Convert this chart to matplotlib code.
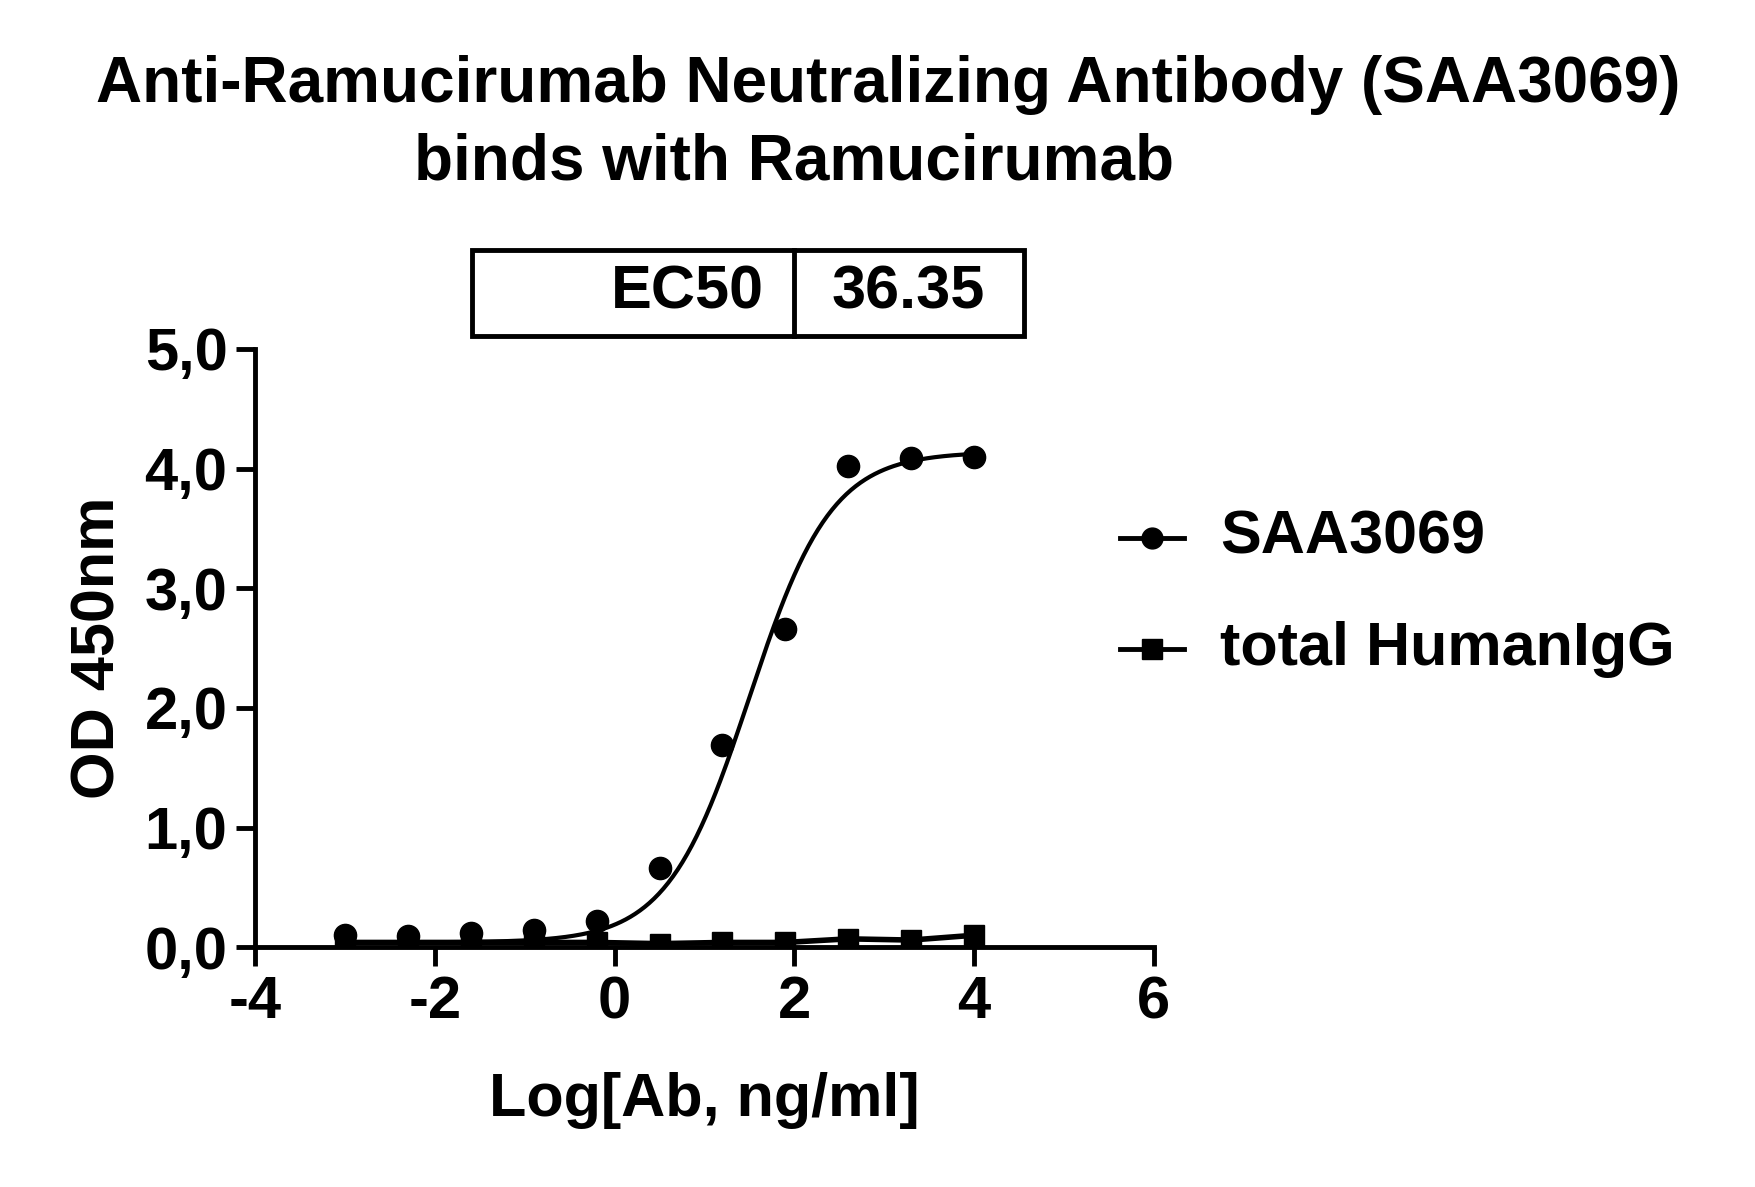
import numpy as np
import matplotlib
matplotlib.use("Agg")
import matplotlib.pyplot as plt
from matplotlib.patches import Rectangle

x = [-3.0, -2.3, -1.6, -0.9, -0.2, 0.5, 1.2, 1.9, 2.6, 3.3, 4.0]
saa = [0.10, 0.09, 0.12, 0.14, 0.22, 0.66, 1.69, 2.66, 4.02, 4.09, 4.10]
igg = [0.04, 0.04, 0.04, 0.04, 0.04, 0.03, 0.04, 0.04, 0.07, 0.06, 0.10]
# 4PL fit parameters
bottom, top, logec, hill = 0.04, 4.14, 1.5, 0.95
ec50_label = "36.35"

plt.rcParams['font.family'] = ['Liberation Sans', 'DejaVu Sans']
plt.rcParams['font.weight'] = 'bold'
fig = plt.figure(figsize=(17.56, 11.87), dpi=100)
ax = fig.add_axes([0.1454, 0.202, 0.5116, 0.504])

xs = np.linspace(-3, 4, 400)
ys = bottom + (top - bottom) / (1 + 10 ** ((logec - xs) * hill))
ax.plot(xs, ys, color='black', lw=3)
ax.plot(x, saa, 'o', color='black', ms=16)
ax.plot(x, igg, color='black', lw=4)
ax.plot(x, igg, 's', color='black', ms=15)

ax.set_xlim(-4, 6)
ax.set_ylim(0, 5)
ax.set_xticks([-4, -2, 0, 2, 4, 6])
ax.set_xticklabels(['-4', '-2', '0', '2', '4', '6'])
ax.set_yticks([0, 1, 2, 3, 4, 5])
ax.set_yticklabels(['0,0', '1,0', '2,0', '3,0', '4,0', '5,0'])
ax.spines['top'].set_visible(False)
ax.spines['right'].set_visible(False)
for s in ['left', 'bottom']:
    ax.spines[s].set_linewidth(3.5)
ax.tick_params(width=3.5, length=14, labelsize=43, pad=6)
ax.set_xlabel('Log[Ab, ng/ml]', fontsize=44, fontweight='bold', labelpad=30)
ax.set_ylabel('OD 450nm', fontsize=44, fontweight='bold', labelpad=12)

fig.text(0.506, 0.928, 'Anti-Ramucirumab Neutralizing Antibody (SAA3069)', ha='center', va='center', fontsize=46, fontweight='bold')
fig.text(0.452, 0.863, 'binds with Ramucirumab', ha='center', va='center', fontsize=46, fontweight='bold')

# EC50 box
fig.patches.append(Rectangle((0.269, 0.717), 0.314, 0.072, transform=fig.transFigure, fill=False, lw=3.5, color='black'))
fig.add_artist(plt.Line2D([0.452, 0.452], [0.717, 0.789], transform=fig.transFigure, color='black', lw=3.5))
fig.text(0.435, 0.753, 'EC50', ha='right', va='center', fontsize=44, fontweight='bold')
fig.text(0.517, 0.753, ec50_label, ha='center', va='center', fontsize=44, fontweight='bold')

# legend
for yy, mk, lab in [(0.547, 'o', 'SAA3069'), (0.453, 's', 'total HumanIgG')]:
    fig.add_artist(plt.Line2D([0.638, 0.674], [yy, yy], transform=fig.transFigure, color='black', lw=3.5))
    fig.add_artist(plt.Line2D([0.656], [yy], transform=fig.transFigure, marker=mk, color='black', ms=15))
    fig.text(0.695, yy, lab, va='center', fontsize=44, fontweight='bold')

fig.savefig('out.png', dpi=100)
